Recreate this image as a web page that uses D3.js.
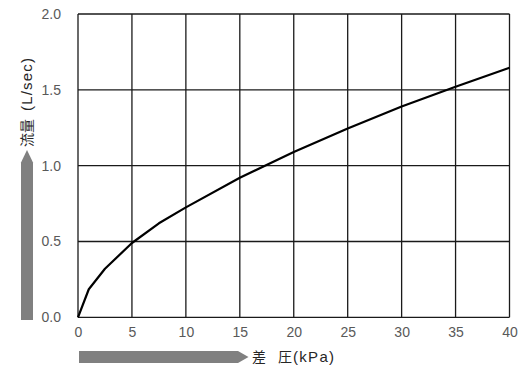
<!DOCTYPE html>
<html><head><meta charset="utf-8">
<script src="https://cdn.jsdelivr.net/npm/d3@7"></script>
<style>body{margin:0;background:#fff}svg{display:block}</style>
</head><body>
<svg id="c" width="532" height="384"></svg>
<script>
const pressure = [0, 1, 2.5, 5, 7.5, 10, 15, 20, 25, 30, 35, 40];
const flow = [0, 0.185, 0.32, 0.49, 0.62, 0.725, 0.92, 1.09, 1.245, 1.39, 1.52, 1.645];
const xTicks = [0, 5, 10, 15, 20, 25, 30, 35, 40];
const yTicks = [0, 0.5, 1.0, 1.5, 2.0];
const xTitleParts = ["差", "圧", "(kPa)"];
const yTitleParts = ["流量", "(L/sec)"];

const svg = d3.select("#c");
const L = 78, R = 509.5, T = 14, B = 317.3;
const x = d3.scaleLinear().domain([0, 40]).range([L, R]);
const y = d3.scaleLinear().domain([0, 2]).range([B, T]);

const grid = svg.append("g").attr("stroke", "#1a1a1a").attr("stroke-width", 1.3);
grid.selectAll("line.v").data(xTicks).join("line")
  .attr("x1", d => x(d)).attr("x2", d => x(d)).attr("y1", T).attr("y2", B);
grid.selectAll("line.h").data(yTicks).join("line")
  .attr("y1", d => y(d)).attr("y2", d => y(d)).attr("x1", L).attr("x2", R);

const tickFont = "'Liberation Sans', Arial, sans-serif";
const ax = svg.append("g").attr("transform", `translate(0,${B})`)
  .call(d3.axisBottom(x).tickValues(xTicks).tickSize(0).tickPadding(10).tickFormat(d3.format("d")));
const ay = svg.append("g").attr("transform", `translate(${L},0)`)
  .call(d3.axisLeft(y).tickValues(yTicks).tickSize(0).tickPadding(17).tickFormat(d3.format(".1f")));
[ax, ay].forEach(g => {
  g.select(".domain").remove();
  g.selectAll("text").attr("fill", "#595959").style("font-family", tickFont).style("font-size", "14px");
});

const line = d3.line().x((d, i) => x(pressure[i])).y(d => y(d));
svg.append("path").datum(flow).attr("d", line)
  .attr("fill", "none").attr("stroke", "#000").attr("stroke-width", 2.2).attr("stroke-linejoin", "round");

// Arrows
const gray = "#808080";
svg.append("path").attr("fill", gray)
  .attr("d", `M79,351 L238,351 L248.5,357 L238,363 L79,363 Z`);
svg.append("path").attr("fill", gray)
  .attr("d", `M21,320 L21,162.5 L27,150 L33,162.5 L33,320 Z`);

// Titles
const cjk = "'Noto Sans CJK JP', sans-serif";
const xt = svg.append("text").attr("x", 252).attr("y", 362).attr("fill", "#262626").style("font-size", "14px");
xt.append("tspan").style("font-family", cjk).text(xTitleParts[0]);
xt.append("tspan").attr("x", 278).style("font-family", cjk).text(xTitleParts[1]);
xt.append("tspan").attr("x", 293).style("font-family", tickFont).style("font-size", "15px").style("letter-spacing", "1.3px").text(xTitleParts[2]);

const yt = svg.append("text").attr("transform", "translate(32,147) rotate(-90)").attr("fill", "#262626").style("font-size", "14px");
yt.append("tspan").style("font-family", cjk).text(yTitleParts[0]);
yt.append("tspan").attr("x", 36).style("font-family", tickFont).style("font-size", "15px").style("letter-spacing", "1.2px").text(yTitleParts[1]);
</script>
</body></html>
